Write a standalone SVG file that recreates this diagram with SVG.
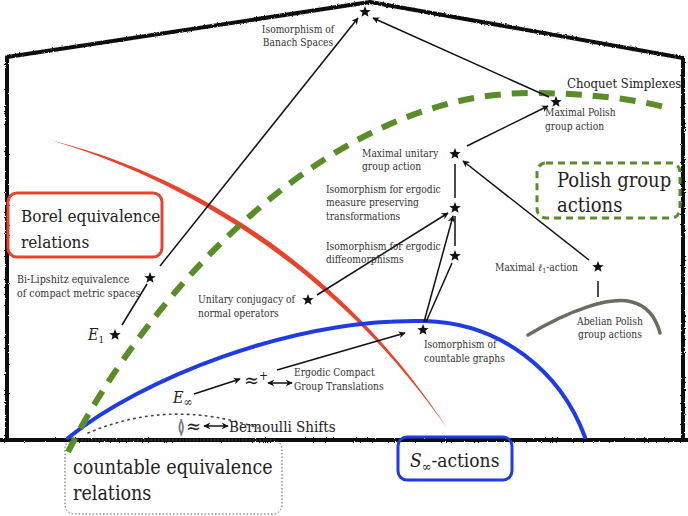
<svg xmlns="http://www.w3.org/2000/svg" width="688" height="516" viewBox="0 0 688 516" font-family="'DejaVu Serif', 'Liberation Serif', serif" font-stretch="condensed">
  <defs>
    <style>
      text { font-stretch: condensed; }
      .lbl { font-size: 10.2px; fill: #333; }
      .big { font-size: 19.5px; fill: #222; }
      .mid { font-size: 13px; fill: #222; }
      .conn { stroke: #111; stroke-width: 1.5; fill: none; }
      .arrow { marker-end: url(#head); }
      .dbl { marker-start: url(#headr); marker-end: url(#head); }
    </style>
    <marker id="head" viewBox="0 0 10 10" refX="9" refY="5" markerWidth="7" markerHeight="7" markerUnits="userSpaceOnUse" orient="auto">
      <path d="M0,0 L10,5 L0,10 L3,5 Z" fill="#111"/>
    </marker>
    <marker id="headr" viewBox="0 0 10 10" refX="1" refY="5" markerWidth="7" markerHeight="7" markerUnits="userSpaceOnUse" orient="auto">
      <path d="M10,0 L0,5 L10,10 L7,5 Z" fill="#111"/>
    </marker>
    <polygon id="star" points="0,-6 1.53,-2.1 5.71,-1.85 2.47,0.8 3.53,4.85 0,2.6 -3.53,4.85 -2.47,0.8 -5.71,-1.85 -1.53,-2.1" fill="#111"/>
    <filter id="rough" x="-5%" y="-5%" width="110%" height="110%">
      <feTurbulence type="fractalNoise" baseFrequency="0.9" numOctaves="2" seed="3" result="n"/>
      <feDisplacementMap in="SourceGraphic" in2="n" scale="2.5" xChannelSelector="R" yChannelSelector="G"/>
    </filter>
  </defs>

  <rect width="688" height="516" fill="#fff"/>

  <!-- house-shaped frame -->
  <g id="frame" filter="url(#rough)" stroke="#111" stroke-width="4" fill="none" stroke-linejoin="round">
    <path d="M0,440 L688,440"/>
    <path d="M7,440 L7,57 L370,2 L683,58 L683,440"/>
  </g>

  <!-- region boundaries -->
  <g id="regions">
    <!-- Borel boundary (red brush stroke) -->
    <path d="M50,140 C 179.2,178 333,265 447,428 C 337,259 180.8,172 50,140 Z" fill="#e8432d"/>
    <!-- countable equivalence relations boundary (dotted) -->
    <path d="M88,433 Q170,398 258,428" stroke="#444" stroke-width="1.6" stroke-dasharray="1.5,4.5" stroke-linecap="round" fill="none"/>
    <!-- S_infinity-actions boundary (blue) -->
    <path d="M68,438 C 140,380 290,318 425,321 C 500,323 560,370 585,437" stroke="#1f3be6" stroke-width="4" fill="none" stroke-linecap="round"/>
    <!-- Choquet simplexes / Polish group actions boundary (green dashed) -->
    <path d="M68,452 C 150,290 330,93 530,93 C 590,93 640,100 668,108" stroke="#5b8c2a" stroke-width="6" fill="none" stroke-dasharray="16,11"/>
    <!-- Abelian Polish group actions -->
    <path d="M528,335 C 570,310 610,296 632,302 C 648,306 656,318 660,333" stroke="#6e6a60" stroke-width="3.5" fill="none" stroke-linecap="round"/>
  </g>

  <!-- connectors -->
  <g id="connectors">
    <line class="conn arrow" x1="160" y1="266" x2="358" y2="18"/>
    <line class="conn arrow" x1="549" y1="97" x2="373" y2="18"/>
    <line class="conn arrow" x1="467" y1="146" x2="548" y2="106"/>
    <line class="conn arrow" x1="589" y1="260" x2="463" y2="161"/>
    <line class="conn" x1="455" y1="164" x2="455" y2="198"/>
    <line class="conn" x1="455" y1="216" x2="455" y2="246"/>
    <line class="conn arrow" x1="317" y1="295" x2="448" y2="213"/>
    <line class="conn arrow" x1="424" y1="322" x2="453" y2="216"/>
    <line class="conn" x1="426" y1="322" x2="452" y2="263"/>
    <line class="conn" x1="122" y1="325" x2="147" y2="284"/>
    <line class="conn" x1="598" y1="281" x2="598" y2="297"/>
    <line class="conn arrow" x1="194" y1="394" x2="240" y2="379"/>
    <line class="conn arrow" x1="277" y1="370" x2="405" y2="333"/>
    <line class="conn dbl" x1="268" y1="383" x2="292" y2="383"/>
    <line class="conn dbl" x1="204" y1="426" x2="228" y2="426"/>
  </g>

  <!-- nodes -->
  <g id="banach">
    <use href="#star" x="365" y="12"/>
    <text class="lbl" x="298" y="33" text-anchor="middle">Isomorphism of</text>
    <text class="lbl" x="298" y="46" text-anchor="middle">Banach Spaces</text>
  </g>

  <g id="choquet">
    <text class="mid" x="567" y="88">Choquet Simplexes</text>
  </g>

  <g id="max-polish">
    <use href="#star" x="556" y="102"/>
    <text class="lbl" x="545" y="116">Maximal Polish</text>
    <text class="lbl" x="545" y="130">group action</text>
  </g>

  <g id="max-unitary">
    <use href="#star" x="455" y="154"/>
    <text class="lbl" x="362" y="157">Maximal unitary</text>
    <text class="lbl" x="362" y="170">group action</text>
  </g>

  <g id="ergodic-mpt">
    <use href="#star" x="455" y="208"/>
    <text class="lbl" x="326" y="193">Isomorphism for ergodic</text>
    <text class="lbl" x="326" y="206">measure preserving</text>
    <text class="lbl" x="326" y="220">transformations</text>
  </g>

  <g id="ergodic-diffeo">
    <use href="#star" x="455" y="256"/>
    <text class="lbl" x="326" y="250">Isomorphism for ergodic</text>
    <text class="lbl" x="326" y="263">diffeomorphisms</text>
  </g>

  <g id="max-l1">
    <use href="#star" x="598" y="267"/>
    <text class="lbl" x="495" y="271">Maximal <tspan style="font-style:italic">ℓ</tspan><tspan style="font-size:7px" dy="2">1</tspan><tspan dy="-2">-action</tspan></text>
  </g>

  <g id="abelian">
    <text class="lbl" x="610" y="325" text-anchor="middle">Abelian Polish</text>
    <text class="lbl" x="610" y="338" text-anchor="middle">group actions</text>
  </g>

  <g id="unitary-conj">
    <use href="#star" x="308" y="300"/>
    <text class="lbl" x="198" y="303">Unitary conjugacy of</text>
    <text class="lbl" x="198" y="317">normal operators</text>
  </g>

  <g id="graphs">
    <use href="#star" x="423" y="330"/>
    <text class="lbl" x="424" y="348">Isomorphism of</text>
    <text class="lbl" x="424" y="362">countable graphs</text>
  </g>

  <g id="bilipshitz">
    <use href="#star" x="150" y="278"/>
    <text class="lbl" x="17" y="283" style="font-size:10.6px">Bi-Lipshitz equivalence</text>
    <text class="lbl" x="17" y="297" style="font-size:10.6px">of compact metric spaces</text>
  </g>

  <g id="e1">
    <use href="#star" x="115" y="335"/>
    <text class="mid" x="88" y="340" style="font-size:16px;font-style:italic">E<tspan style="font-style:normal;font-size:10px" dy="3">1</tspan></text>
  </g>

  <g id="e-infinity">
    <text class="mid" x="173" y="403" style="font-size:16px;font-style:italic">E<tspan style="font-style:normal;font-size:12px" dy="3">∞</tspan></text>
  </g>

  <g id="approx-plus">
    <text class="mid" x="244" y="387" style="font-size:20px">≈<tspan style="font-size:12px" dy="-7">+</tspan></text>
    <text class="lbl" x="294" y="376">Ergodic Compact</text>
    <text class="lbl" x="294" y="390">Group Translations</text>
  </g>

  <g id="bernoulli">
    <text class="mid" x="177" y="433" style="font-size:18px;fill:#777">≬</text>
    <text class="mid" x="186" y="433" style="font-size:20px">≈</text>
    <text class="mid" x="229" y="432" style="font-size:15px">Bernoulli Shifts</text>
  </g>

  <g id="borel-box">
    <rect x="8" y="193" width="154" height="64" rx="9" fill="none" stroke="#e8432d" stroke-width="3"/>
    <text class="big" x="21" y="222" style="font-size:17px">Borel equivalence</text>
    <text class="big" x="21" y="248" style="font-size:17px">relations</text>
  </g>

  <g id="polish-box">
    <rect x="537" y="163" width="143" height="55" rx="9" fill="none" stroke="#5b8c2a" stroke-width="3" stroke-dasharray="7,5"/>
    <text class="big" x="557" y="187" style="font-size:20px">Polish group</text>
    <text class="big" x="557" y="212" style="font-size:20px">actions</text>
  </g>

  <g id="countable-box">
    <rect x="65" y="440" width="217" height="74" rx="9" fill="none" stroke="#555" stroke-width="1" stroke-dasharray="1.5,2"/>
    <text class="big" x="73" y="474">countable equivalence</text>
    <text class="big" x="73" y="500">relations</text>
  </g>

  <g id="s-infinity-box">
    <rect x="398" y="437" width="114" height="43" rx="9" fill="none" stroke="#1f3be6" stroke-width="3"/>
    <text class="big" x="410" y="467" style="font-size:19px"><tspan style="font-style:italic">S</tspan><tspan style="font-size:13px" dy="4">∞</tspan><tspan dy="-4">-actions</tspan></text>
  </g>
</svg>
